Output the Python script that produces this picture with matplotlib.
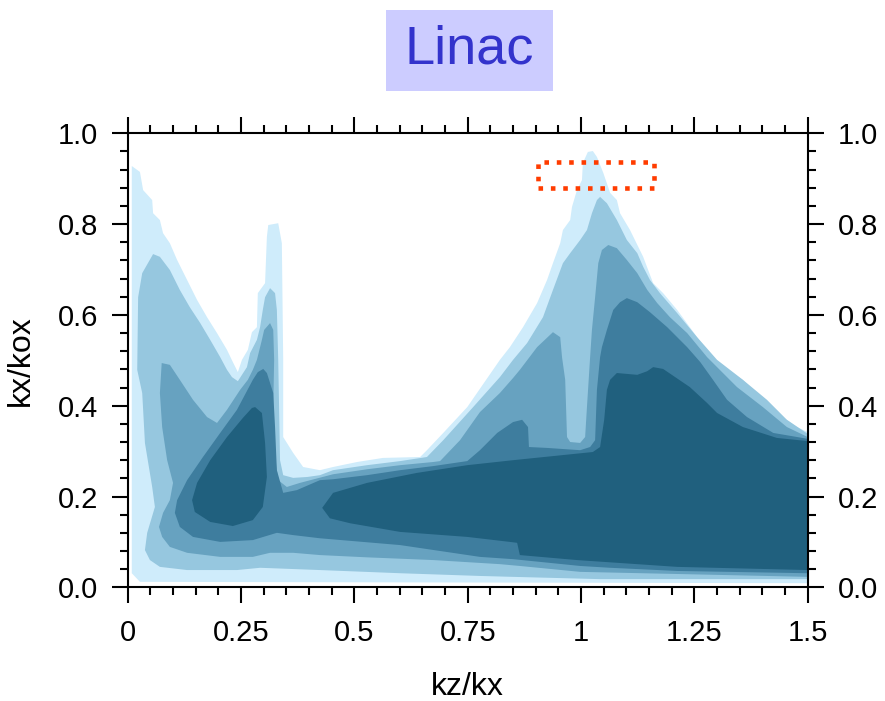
import matplotlib
matplotlib.use("Agg")
import matplotlib.pyplot as plt
from matplotlib.patches import Rectangle
from matplotlib.ticker import MultipleLocator

plt.rcParams['font.family'] = ['Liberation Sans', 'DejaVu Sans']

# contour levels, lightest to darkest, outlines (kz/kx, kx/kox)
level1_x = [0.009, 0.027, 1.5, 1.5, 1.476, 1.432, 1.401, 1.357, 1.313, 1.291, 1.256, 1.212, 1.181, 1.159,
            1.137, 1.108, 1.086, 1.079, 1.064, 1.049, 1.035, 1.026, 1.015, 1.004, 1.002, 0.991, 0.980, 0.976,
            0.960, 0.954, 0.938, 0.925, 0.903, 0.872, 0.843, 0.821, 0.749, 0.696, 0.660, 0.645, 0.563, 0.506,
            0.453, 0.424, 0.387, 0.365, 0.343, 0.343, 0.340, 0.332, 0.310, 0.307, 0.303, 0.287, 0.285, 0.274,
            0.265, 0.252, 0.243, 0.232, 0.219, 0.197, 0.175, 0.153, 0.131, 0.109, 0.093, 0.078, 0.071, 0.056,
            0.054, 0.034, 0.027, 0.009]
level1_y = [0.031, 0.012, 0.009, 0.342, 0.353, 0.384, 0.413, 0.457, 0.485, 0.501, 0.551, 0.611, 0.648, 0.670,
            0.728, 0.787, 0.824, 0.853, 0.869, 0.913, 0.948, 0.961, 0.959, 0.935, 0.897, 0.875, 0.838, 0.809,
            0.787, 0.758, 0.714, 0.677, 0.626, 0.573, 0.529, 0.501, 0.397, 0.340, 0.302, 0.287, 0.285, 0.276,
            0.265, 0.258, 0.265, 0.296, 0.331, 0.501, 0.758, 0.802, 0.798, 0.772, 0.670, 0.648, 0.573, 0.562,
            0.523, 0.501, 0.474, 0.496, 0.523, 0.560, 0.595, 0.633, 0.677, 0.721, 0.758, 0.780, 0.809, 0.824,
            0.853, 0.875, 0.915, 0.928]

level2_x = [0.056, 0.071, 0.093, 0.115, 0.137, 0.160, 0.182, 0.204, 0.219, 0.230, 0.243, 0.263, 0.270, 0.285,
            0.292, 0.298, 0.303, 0.314, 0.325, 0.329, 0.332, 0.336, 0.343, 0.365, 0.396, 0.424, 0.453, 0.528,
            0.601, 0.660, 0.696, 0.762, 0.821, 0.850, 0.881, 0.916, 0.938, 0.960, 0.976, 0.998, 1.013, 1.024,
            1.035, 1.042, 1.057, 1.079, 1.101, 1.124, 1.137, 1.152, 1.174, 1.212, 1.256, 1.300, 1.357, 1.410,
            1.454, 1.5, 1.5, 1.042, 0.850, 0.777, 0.601, 0.424, 0.292, 0.241, 0.131, 0.071, 0.049, 0.038,
            0.043, 0.060, 0.054, 0.038, 0.032, 0.021, 0.023, 0.032]
level2_y = [0.734, 0.728, 0.699, 0.655, 0.617, 0.582, 0.545, 0.507, 0.479, 0.463, 0.454, 0.485, 0.516, 0.545,
            0.573, 0.611, 0.639, 0.659, 0.648, 0.611, 0.501, 0.280, 0.247, 0.241, 0.243, 0.247, 0.258, 0.269,
            0.278, 0.287, 0.324, 0.397, 0.463, 0.501, 0.538, 0.595, 0.655, 0.714, 0.736, 0.765, 0.787, 0.824,
            0.853, 0.860, 0.846, 0.809, 0.765, 0.736, 0.706, 0.677, 0.648, 0.604, 0.551, 0.501, 0.457, 0.413,
            0.369, 0.338, 0.018, 0.018, 0.023, 0.025, 0.031, 0.038, 0.043, 0.038, 0.038, 0.045, 0.060, 0.082,
            0.120, 0.177, 0.221, 0.318, 0.428, 0.479, 0.639, 0.692]

level3_x = [0.075, 0.093, 0.115, 0.144, 0.175, 0.197, 0.219, 0.248, 0.265, 0.276, 0.285, 0.292, 0.296, 0.301,
            0.314, 0.321, 0.323, 0.321, 0.325, 0.332, 0.351, 0.380, 0.453, 0.528, 0.601, 0.674, 0.689, 0.733,
            0.777, 0.821, 0.850, 0.865, 0.903, 0.938, 0.954, 0.958, 0.965, 0.969, 0.976, 0.998, 1.009, 1.013,
            1.020, 1.024, 1.031, 1.038, 1.046, 1.060, 1.079, 1.101, 1.124, 1.146, 1.168, 1.196, 1.234, 1.278,
            1.344, 1.401, 1.454, 1.5, 1.5, 0.998, 0.865, 0.821, 0.674, 0.528, 0.424, 0.365, 0.314, 0.276,
            0.204, 0.131, 0.093, 0.076, 0.069, 0.078, 0.093, 0.100, 0.087, 0.076, 0.071]
level3_y = [0.494, 0.490, 0.457, 0.413, 0.375, 0.362, 0.391, 0.435, 0.457, 0.479, 0.501, 0.529, 0.545, 0.567,
            0.582, 0.567, 0.501, 0.397, 0.287, 0.236, 0.221, 0.230, 0.249, 0.260, 0.269, 0.276, 0.278, 0.324,
            0.386, 0.428, 0.461, 0.479, 0.529, 0.562, 0.551, 0.507, 0.457, 0.331, 0.320, 0.318, 0.331, 0.397,
            0.507, 0.567, 0.639, 0.714, 0.743, 0.754, 0.747, 0.721, 0.692, 0.655, 0.626, 0.595, 0.560, 0.507,
            0.441, 0.397, 0.353, 0.331, 0.023, 0.034, 0.047, 0.051, 0.060, 0.066, 0.071, 0.076, 0.076, 0.067,
            0.067, 0.076, 0.089, 0.111, 0.133, 0.164, 0.192, 0.230, 0.280, 0.353, 0.428]

level4_x = [0.299, 0.307, 0.321, 0.325, 0.329, 0.343, 0.373, 0.424, 0.453, 0.528, 0.601, 0.674, 0.749, 0.777,
            0.815, 0.850, 0.870, 0.883, 0.885, 0.925, 0.998, 1.020, 1.031, 1.035, 1.042, 1.046, 1.057, 1.071,
            1.086, 1.101, 1.124, 1.152, 1.190, 1.234, 1.263, 1.291, 1.322, 1.366, 1.424, 1.5, 1.5, 1.212,
            1.064, 0.998, 0.850, 0.777, 0.601, 0.424, 0.365, 0.329, 0.276, 0.204, 0.144, 0.115, 0.104, 0.109,
            0.131, 0.166, 0.204, 0.241, 0.276, 0.287]
level4_y = [0.481, 0.472, 0.428, 0.353, 0.258, 0.208, 0.214, 0.236, 0.238, 0.247, 0.258, 0.267, 0.278, 0.302,
            0.340, 0.364, 0.369, 0.353, 0.309, 0.307, 0.302, 0.309, 0.324, 0.435, 0.507, 0.529, 0.567, 0.611,
            0.628, 0.637, 0.628, 0.606, 0.573, 0.529, 0.496, 0.457, 0.413, 0.375, 0.340, 0.327, 0.031, 0.036,
            0.043, 0.047, 0.062, 0.067, 0.093, 0.108, 0.115, 0.120, 0.104, 0.100, 0.111, 0.133, 0.164, 0.192,
            0.236, 0.287, 0.340, 0.391, 0.457, 0.474]

level5_x = [0.429, 0.453, 0.528, 0.638, 0.749, 0.850, 1.026, 1.042, 1.051, 1.057, 1.064, 1.079, 1.124, 1.146,
            1.159, 1.181, 1.240, 1.278, 1.300, 1.357, 1.432, 1.5, 1.5, 1.212, 0.991, 0.865, 0.859, 0.843,
            0.749, 0.601, 0.491, 0.446]
level5_y = [0.175, 0.208, 0.230, 0.252, 0.269, 0.280, 0.298, 0.309, 0.369, 0.435, 0.457, 0.472, 0.468, 0.476,
            0.485, 0.481, 0.441, 0.406, 0.384, 0.353, 0.329, 0.322, 0.038, 0.045, 0.060, 0.071, 0.098, 0.100,
            0.111, 0.122, 0.141, 0.152]

level5b_x = [0.281, 0.296, 0.303, 0.307, 0.298, 0.276, 0.232, 0.182, 0.148, 0.142, 0.153, 0.182, 0.219, 0.254, 0.274]
level5b_y = [0.397, 0.384, 0.318, 0.243, 0.177, 0.148, 0.135, 0.144, 0.166, 0.192, 0.230, 0.280, 0.331, 0.373, 0.395]

level_colors = ['#cfecfb', '#96c7df', '#67a2c0', '#3e7d9e', '#20607e']

# highlighted box
box_x = [0.905, 1.161]
box_y = [0.880, 0.937]

xtick_vals = [0, 0.25, 0.5, 0.75, 1, 1.25, 1.5]
xtick_text = ['0', '0.25', '0.5', '0.75', '1', '1.25', '1.5']
ytick_vals = [0.0, 0.2, 0.4, 0.6, 0.8, 1.0]

fig = plt.figure(figsize=(8.85, 7.01), dpi=100)
ax = fig.add_axes([0.1443, 0.1622, 0.7684, 0.6476])

shapes = [(level1_x, level1_y, 0), (level2_x, level2_y, 1), (level3_x, level3_y, 2),
          (level4_x, level4_y, 3), (level5_x, level5_y, 4), (level5b_x, level5b_y, 4)]
for xs, ys, lev in shapes:
    ax.fill(xs, ys, color=level_colors[lev], lw=0)

ax.plot([box_x[0], box_x[1], box_x[1], box_x[0], box_x[0]],
        [box_y[0], box_y[0], box_y[1], box_y[1], box_y[0]],
        color='#ff3c00', lw=3.3, linestyle=(0, (1, 1.7)), dash_capstyle='butt')

ax.set_xlim(0, 1.5)
ax.set_ylim(0, 1.0)
ax.set_xticks(xtick_vals)
ax.set_xticklabels(xtick_text)
ax.set_yticks(ytick_vals)
ax.set_yticklabels(['%.1f' % v for v in ytick_vals])
ax.xaxis.set_minor_locator(MultipleLocator(0.05))
ax.yaxis.set_minor_locator(MultipleLocator(0.04))
ax.tick_params(which='both', direction='out', top=True, right=True, labelright=True, width=1.5,
               labelsize=21)
ax.tick_params(which='major', length=11.5)
ax.tick_params(which='minor', length=5.8)
ax.tick_params(axis='x', which='major', pad=11)
ax.tick_params(axis='y', which='major', pad=10)
for s in ax.spines.values():
    s.set_linewidth(1.5)

ax.set_xlabel('kz/kx', fontsize=23)
ax.set_ylabel('kx/kox', fontsize=23)
ax.xaxis.set_label_coords(0.5, -0.186)
ax.yaxis.set_label_coords(-0.135, 0.5)

# title with shaded box
fig.patches.append(Rectangle((386 / 885, 1 - 91 / 701), 167 / 885, 81 / 701,
                             transform=fig.transFigure, facecolor='#ccccff', edgecolor='none'))
fig.text(469.5 / 885, 1 - 50 / 701, 'Linac', fontsize=39, color='#3333cc', ha='center', va='center')

fig.savefig('out.png', dpi=100)
